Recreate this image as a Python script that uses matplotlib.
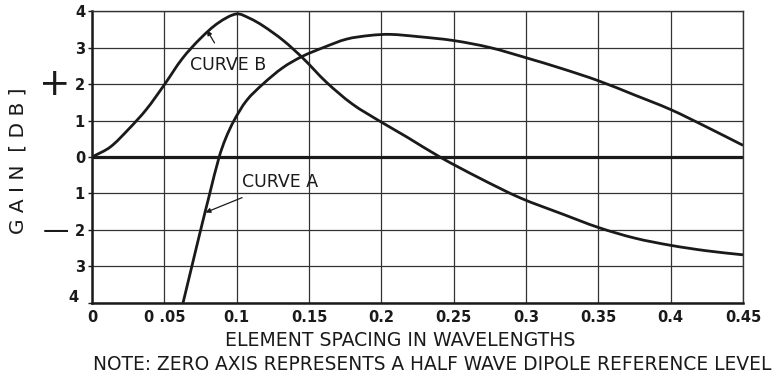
import matplotlib
matplotlib.use("Agg")
import matplotlib.pyplot as plt
from matplotlib.path import Path
from matplotlib.patches import PathPatch
import numpy as np

# Curve A data (element spacing in wavelengths, gain in dB)
curve_a_x = [0.0629, 0.0690, 0.0751, 0.0814, 0.0879, 0.0923, 0.0982, 0.1069, 0.1182,
             0.132, 0.145, 0.160, 0.176, 0.192, 0.206, 0.225, 0.250, 0.275, 0.300,
             0.325, 0.350, 0.375, 0.400, 0.425, 0.450]
curve_a_y = [-4.0, -3.0, -2.0, -1.0, 0.0, 0.5, 1.0, 1.55, 2.0,
             2.45, 2.75, 3.0, 3.23, 3.33, 3.36, 3.30, 3.19, 3.0, 2.72,
             2.42, 2.09, 1.70, 1.30, 0.82, 0.32]

# Curve B data
curve_b_x = [0.0, 0.0125, 0.025, 0.0375, 0.05, 0.0625, 0.075, 0.0875, 0.100,
             0.109, 0.118, 0.132, 0.146, 0.162, 0.180, 0.199, 0.218, 0.2405, 0.268,
             0.296, 0.325, 0.350, 0.375, 0.400, 0.425, 0.450]
curve_b_y = [0.0, 0.27, 0.75, 1.30, 1.98, 2.70, 3.25, 3.68, 3.92,
             3.80, 3.60, 3.20, 2.70, 2.05, 1.45, 0.98, 0.54, 0.0, -0.58,
             -1.12, -1.56, -1.93, -2.22, -2.42, -2.57, -2.68]

x_ticks = [0.0, 0.05, 0.1, 0.15, 0.2, 0.25, 0.3, 0.35, 0.4, 0.45]
x_tick_labels = ["0", "0 .05", "0.1", "0.15", "0.2", "0.25", "0.3", "0.35", "0.4", "0.45"]
y_ticks = [-4, -3, -2, -1, 0, 1, 2, 3, 4]
y_tick_labels = ["", "3", "2", "1", "0", "1", "2", "3", "4"]

FONT = "DejaVu Sans"
INK = "#1a1a1a"
XLIM = (0, 0.45)
YLIM = (-4, 4)


def smooth_path(xs, ys, sx, sy):
    """Smooth cubic curve through the given data points (chord-length Hermite)."""
    p = np.column_stack([xs, ys]).astype(float)
    q = p * np.array([sx, sy])
    d = np.hypot(*np.diff(q, axis=0).T)
    t = np.concatenate([[0], np.cumsum(d)])
    n = len(p)
    m = np.zeros_like(p)
    m[0] = (p[1] - p[0]) / (t[1] - t[0])
    m[-1] = (p[-1] - p[-2]) / (t[-1] - t[-2])
    for i in range(1, n - 1):
        m[i] = (p[i + 1] - p[i - 1]) / (t[i + 1] - t[i - 1])
    verts = [p[0]]
    codes = [Path.MOVETO]
    for i in range(n - 1):
        h = t[i + 1] - t[i]
        verts += [p[i] + m[i] * h / 3, p[i + 1] - m[i + 1] * h / 3, p[i + 1]]
        codes += [Path.CURVE4] * 3
    return Path(verts, codes)


fig = plt.figure(figsize=(7.81, 3.77), dpi=100)
fig.patch.set_facecolor("white")
ax = fig.add_axes([0.1178, 0.1963, 0.8335, 0.7745])

ax.set_xlim(*XLIM)
ax.set_ylim(*YLIM)
ax.set_xticks(x_ticks)
ax.set_yticks(y_ticks)
ax.set_xticklabels(x_tick_labels, fontfamily=FONT, fontweight="bold", fontsize=10.5, color=INK)
ax.set_yticklabels(y_tick_labels, fontfamily=FONT, fontweight="bold", fontsize=10.5, color=INK)
ax.tick_params(axis="x", length=0, pad=5)
ax.tick_params(axis="y", length=3, width=1, pad=2, color=INK)

ax.grid(True, color="#333333", linewidth=0.9)
ax.set_axisbelow(True)
for side in ["top", "right"]:
    ax.spines[side].set_linewidth(1.0)
    ax.spines[side].set_color("#333333")
for side in ["left", "bottom"]:
    ax.spines[side].set_linewidth(1.8)
    ax.spines[side].set_color(INK)

ax.axhline(0, color=INK, linewidth=2.3, zorder=2)

sx = 651 / (XLIM[1] - XLIM[0])
sy = 292 / (YLIM[1] - YLIM[0])
for xs, ys in [(curve_a_x, curve_a_y), (curve_b_x, curve_b_y)]:
    patch = PathPatch(smooth_path(xs, ys, sx, sy), facecolor="none", edgecolor=INK,
                      linewidth=2.0, transform=ax.transData, zorder=3)
    ax.add_patch(patch)

# corner "4"
ax.text(-0.009, -3.85, "4", ha="right", va="center", fontfamily=FONT, fontweight="bold",
        fontsize=10.5, color=INK, clip_on=False)

# curve labels with arrows
ax.annotate("CURVE B", xy=(0.0795, 3.47), xytext=(0.094, 2.51), ha="center", va="center",
            fontfamily=FONT, fontsize=12.5, color=INK,
            arrowprops=dict(arrowstyle="-|>", color=INK, lw=0.9, mutation_scale=7,
                            shrinkA=9, shrinkB=0))
ax.annotate("CURVE A", xy=(0.0785, -1.52), xytext=(0.130, -0.69), ha="center", va="center",
            fontfamily=FONT, fontsize=12.5, color=INK,
            arrowprops=dict(arrowstyle="-|>", color=INK, lw=0.9, mutation_scale=7,
                            shrinkA=7, shrinkB=0))

# y-axis label and sign markers
fig.text(18 / 781, 1 - 161 / 377, "G A I N  [ D B ]", rotation=90, ha="center", va="center",
         fontfamily=FONT, fontsize=14.5, color=INK)
fig.text(55 / 781, 1 - 85 / 377, "+", ha="center", va="center", fontfamily=FONT,
         fontsize=27, color=INK)
fig.text(56 / 781, 1 - 231 / 377, "\u2014", ha="center", va="center", fontfamily=FONT,
         fontsize=19, color=INK)

fig.text(400 / 781, 1 - 341 / 377, "ELEMENT SPACING IN WAVELENGTHS", ha="center", va="center",
         fontfamily=FONT, fontsize=13.6, color=INK)
fig.text(432 / 781, 1 - 364 / 377, "NOTE: ZERO AXIS REPRESENTS A HALF WAVE DIPOLE REFERENCE LEVEL",
         ha="center", va="center", fontfamily=FONT, fontsize=13.4, color=INK)

fig.savefig("out.png", dpi=100, facecolor="white")
